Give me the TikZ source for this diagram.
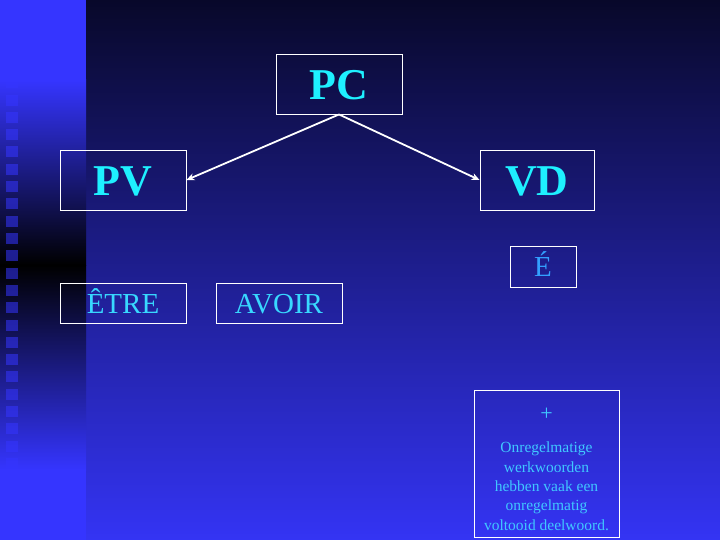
\documentclass[tikz,border=0pt]{standalone}
\usepackage{xcolor}
\usepackage{fontspec}
\setmainfont{Liberation Serif}
\usepackage{tikz}
\usetikzlibrary{arrows.meta, positioning}

\definecolor{navytop}{HTML}{08082A}
\definecolor{navymid}{HTML}{2222B8}
\definecolor{bluebot}{HTML}{3434F4}
\definecolor{stripblue}{HTML}{3535FF}
\definecolor{titlecyan}{HTML}{1EF0FF}
\definecolor{wordcyan}{HTML}{38D8FF}
\definecolor{notecyan}{HTML}{40C8FF}

\begin{document}
\begin{tikzpicture}[
    x=1pt, y=-1pt,
    frame/.style={draw=white, line width=0.9pt, inner sep=0pt,
                  text=titlecyan},
    big/.style={frame, text height=32pt, text depth=0pt,
                font=\fontsize{44}{48}\selectfont\bfseries},
    word/.style={frame, text=wordcyan, text height=20pt, text depth=0pt,
                 font=\fontsize{29}{32}\selectfont},
    arr/.style={draw=white, line width=1.8pt,
                -{Stealth[length=8pt, width=7pt]}}
  ]
  \useasboundingbox (0,0) rectangle (720,540);

  % background
  \shade[top color=navytop, middle color=navymid, bottom color=bluebot]
    (86,0) rectangle (720,540);
  \fill[stripblue] (0,0) rectangle (86,80);
  \shade[top color=stripblue, bottom color=black] (0,80) rectangle (86,265);
  \shade[top color=black, bottom color=stripblue] (0,265) rectangle (86,470);
  \fill[stripblue] (0,470) rectangle (86,540);

  % square column
  \foreach \k in {0,...,23}
    \fill[stripblue, opacity=0.55]
      (6,60+17.3*\k) rectangle (18,71+17.3*\k);

  % top level
  \node[big, minimum width=126pt, minimum height=60pt]
    (pc) at (339,84) {PC};

  % second level
  \node[big, minimum width=126pt, minimum height=60pt]
    (pv) at (123,180) {PV};
  \node[big, minimum width=114pt, minimum height=60pt]
    (vd) at (537,180) {VD};

  % auxiliaries and ending
  \node[word, minimum width=126pt, minimum height=40pt]
    (etre) at (123,303) {ÊTRE};
  \node[word, minimum width=126pt, minimum height=40pt]
    (avoir) at (279,303) {AVOIR};
  \node[word, text=notecyan!80!blue, minimum width=66pt, minimum height=41pt]
    (eacute) at (543,266.5) {É};

  % note
  \node[frame, text=notecyan, align=center,
        font=\fontsize{15.5}{19.3}\selectfont,
        minimum width=145pt, minimum height=147pt]
    (note) at (546.5,463.5)
    {\rule{0pt}{24pt}{\fontsize{22}{22}\selectfont +}\\[13pt]
     Onregelmatige\\ werkwoorden\\ hebben vaak een\\
     onregelmatig\\ voltooid deelwoord.};

  % arrows
  \draw[arr] (pc.south) -- (pv.east);
  \draw[arr] (pc.south) -- (vd.west);
\end{tikzpicture}
\end{document}
